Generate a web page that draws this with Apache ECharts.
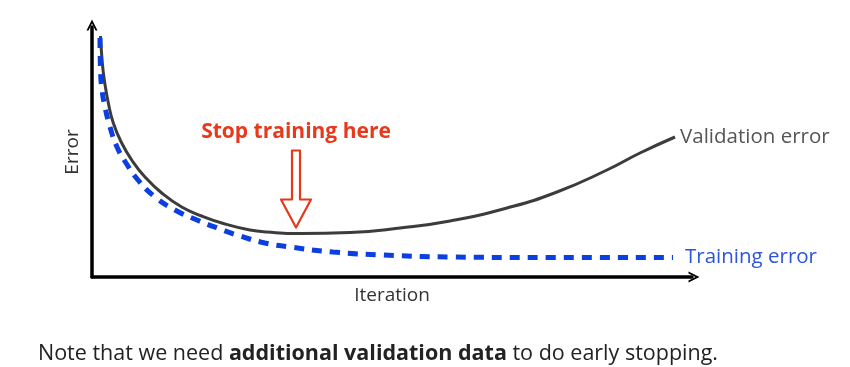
<!DOCTYPE html>
<html><head><meta charset="utf-8">
<script src="https://cdn.jsdelivr.net/npm/echarts@6/dist/echarts.min.js"></script>
<style>html,body{margin:0;padding:0;background:#fff}#c{width:850px;height:367px}</style>
</head><body><div id="c"></div>
<script>
// Data (x: iteration 0..100, y: error 0..100)
const validationX = [1.42,1.72,2.05,2.72,3.55,4.95,6.62,8.83,11.62,14.95,18.28,22.17,26.33,29.17,34.67,43,51.33,59.67,69.17,77.5,85.83,91.33,97.17];
const validationY = [96.4,85.6,78.8,69.6,61.6,53.6,46.8,40,33.6,28,24.4,21.2,18.8,18,17.4,17.8,19.6,22.4,27.6,34,42.8,49.6,56];
const trainingX = [1.33,1.42,1.67,2.17,3,4.17,5.67,7.67,10.5,13.83,17.5,21.33,24.67,28.83,33,40.17,48.5,59.67,76.33,96.83];
const trainingY = [95.6,82.8,74.8,68,60,52,45.6,38.8,32,26.8,22.8,19.2,16.4,13.6,12,10,8.8,8,7.8,7.8];
const stopAt = [34, 17.4];
const seriesNames = ['Validation error','Training error'];
const axisNames = ['Iteration','Error'];
const title = 'Stop training here';
const note = ['Note that we need ', 'additional validation data', ' to do early stopping.'];

const FONT = '"Open Sans", sans-serif';
const chevron = 'path://M0,10 L5,0 L10,10 L8.2,10 L5,3.6 L1.8,10 Z';
const zip = (a,b)=>a.map((v,i)=>[v,b[i]]);
const chart = echarts.init(document.getElementById('c'));
const axisLine = {show:true, lineStyle:{color:'#000', width:3.5}, symbol:['none', chevron], symbolSize:[16,11], symbolOffset:[0,2]};
chart.setOption({
  animation:false,
  grid:{left:92, right:158, top:27, bottom:90},
  xAxis:{type:'value', min:0, max:100, name:axisNames[0], nameLocation:'middle', nameGap:9,
    nameTextStyle:{fontFamily:FONT, fontSize:19, color:'#333', verticalAlign:'top'},
    axisLine, axisTick:{show:false}, axisLabel:{show:false}, splitLine:{show:false}},
  yAxis:{type:'value', min:0, max:100, name:axisNames[1], nameLocation:'middle', nameGap:10,
    nameTextStyle:{fontFamily:FONT, fontSize:19, color:'#333'},
    axisLine, axisTick:{show:false}, axisLabel:{show:false}, splitLine:{show:false}},
  series:[
    {name:seriesNames[0], type:'line', smooth:0.5, showSymbol:false, data:zip(validationX, validationY),
     lineStyle:{color:'#3c3c3c', width:3},
     endLabel:{show:true, formatter:'{a}', distance:5, fontFamily:FONT, fontSize:20.5, color:'#555'}},
    {name:seriesNames[1], type:'line', smooth:0.5, showSymbol:false, data:zip(trainingX, trainingY),
     lineStyle:{color:'#0b3fe0', width:5, type:[10,8]},
     endLabel:{show:true, formatter:'{a}', distance:12, fontFamily:FONT, fontSize:20.5, color:'#2d55d8'}}
  ]
});
const tip = chart.convertToPixel({gridIndex:0}, stopAt);
const tx = tip[0], ty = tip[1] - 6;
chart.setOption({graphic:[
  {type:'polygon', shape:{points:[[tx-4,ty-77],[tx+4,ty-77],[tx+4,ty-28],[tx+15,ty-28],[tx,ty],[tx-15,ty-28],[tx-4,ty-28]]},
   style:{fill:'#fff', stroke:'#e4391b', lineWidth:2.2, lineJoin:'round'}},
  {type:'text', x:tx, y:ty-95, style:{text:title, fontFamily:FONT, fontWeight:'bold', fontSize:21, fill:'#e8391d', align:'center', verticalAlign:'middle'}},
  {type:'text', left:38, top:343, style:{rich:{n:{fontFamily:FONT, fontSize:21.5, fill:'#222'}, b:{fontFamily:FONT, fontSize:21.5, fontWeight:'bold', fill:'#222'}},
    text:'{n|'+note[0]+'}{b|'+note[1]+'}{n|'+note[2]+'}'}}
]});
</script></body></html>
